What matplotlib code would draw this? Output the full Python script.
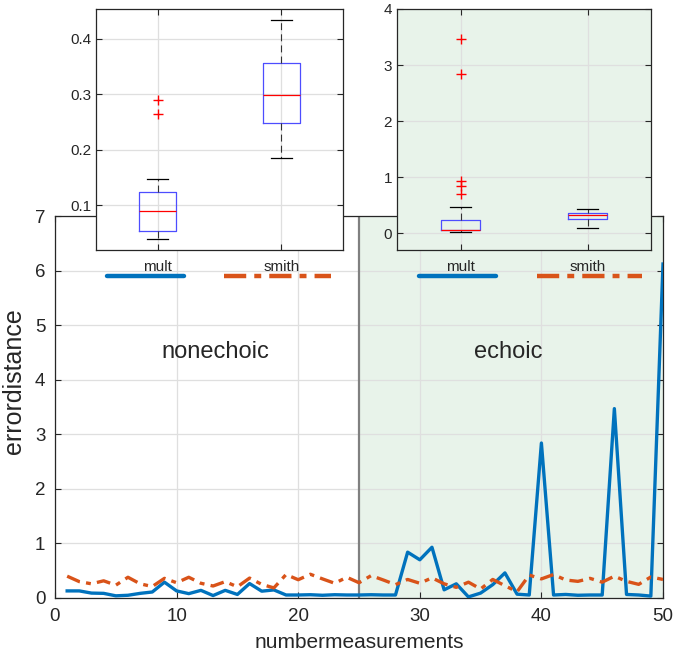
import matplotlib
matplotlib.use("Agg")
import matplotlib.pyplot as plt
from matplotlib.lines import Line2D
import numpy as np

plt.rcParams['font.family'] = ['Liberation Sans', 'DejaVu Sans']
plt.rcParams['lines.scale_dashes'] = False

# ---------------- data ----------------
measurements = list(range(1, 51))
mult = [0.13, 0.13, 0.09, 0.085, 0.04, 0.05, 0.085, 0.11, 0.29, 0.13,
        0.08, 0.14, 0.045, 0.14, 0.065, 0.265, 0.125, 0.148, 0.055, 0.055,
        0.06, 0.05, 0.06, 0.055, 0.055,
        0.06, 0.055, 0.055, 0.84, 0.70, 0.93, 0.15, 0.26, 0.02, 0.09,
        0.245, 0.46, 0.07, 0.055, 2.84, 0.055, 0.065, 0.05, 0.055, 0.055,
        3.47, 0.065, 0.055, 0.035, 6.12]
smith = [0.40, 0.30, 0.26, 0.315, 0.235, 0.38, 0.26, 0.21, 0.36, 0.28,
         0.38, 0.27, 0.22, 0.30, 0.205, 0.365, 0.25, 0.185, 0.43, 0.335,
         0.435, 0.35, 0.27, 0.38, 0.28,
         0.41, 0.33, 0.245, 0.34, 0.27, 0.37, 0.26, 0.195, 0.29, 0.165,
         0.34, 0.225, 0.115, 0.42, 0.35, 0.43, 0.33, 0.305, 0.36, 0.29,
         0.40, 0.305, 0.25, 0.385, 0.34]
split_at = 25
region_labels = ['nonechoic', 'echoic']
xticks = [0, 10, 20, 30, 40, 50]
yticks = [0, 1, 2, 3, 4, 5, 6, 7]
groups = ['mult', 'smith']

# box statistics
non_med = [0.089, 0.298]
non_q1 = [0.054, 0.248]
non_q3 = [0.123, 0.357]
non_lo = [0.039, 0.185]
non_hi = [0.147, 0.434]
non_fliers = [[0.290, 0.265], []]
ech_med = [0.06, 0.321]
ech_q1 = [0.054, 0.25]
ech_q3 = [0.232, 0.357]
ech_lo = [0.018, 0.10]
ech_hi = [0.464, 0.44]
ech_fliers = [[3.464, 2.833, 0.923, 0.833, 0.702], []]

# ---------------- style ----------------
BLUE = '#0072BD'
ORANGE = '#D95319'
GREEN = '#E8F3EA'
TXT = '#262626'
GRID = '#DFDFDF'
DASHDOT = (0, (10, 4.5, 3.5, 4.5))
DASHDOT_KEY = (0, (16, 5.8, 5, 5.8))

W, H = 673, 662
fig = plt.figure(figsize=(W / 100, H / 100), dpi=100)

def px_axes(l, t, r, b):
    return fig.add_axes([l / W, (H - b) / H, (r - l) / W, (b - t) / H])

def style_axes(a, fs):
    a.tick_params(direction='in', top=True, right=True, colors=TXT,
                  labelsize=fs, length=4, width=0.8)
    for s in a.spines.values():
        s.set_color(TXT)
        s.set_linewidth(0.9)
    a.grid(True, color=GRID, linewidth=0.9)
    a.set_axisbelow(True)

# main axes
ax = px_axes(55, 216, 663, 598)
style_axes(ax, 13.5)
ax.tick_params(pad=7)
ax.axvspan(split_at, measurements[-1], facecolor=GREEN, edgecolor='none', zorder=0.1)
ax.axvline(split_at, color='#808080', linewidth=1.6, zorder=2)
ax.plot(measurements, mult, color=BLUE, linewidth=2.4, zorder=3)
ax.plot(measurements, smith, color=ORANGE, linewidth=2.4, linestyle=DASHDOT, zorder=3)
ax.set_xlim(0, 50)
ax.set_ylim(0, 7)
ax.set_xticks(xticks)
ax.set_yticks(yticks)
ax.set_xlabel('numbermeasurements', fontsize=15, color=TXT, labelpad=6)
ax.set_ylabel('errordistance', fontsize=18, color=TXT)
ax.yaxis.set_label_coords(-0.048, 0.568)
ax.text(13.2, 4.4, region_labels[0], fontsize=17, color=TXT, ha='center', va='baseline')
ax.text(37.3, 4.4, region_labels[1], fontsize=17, color=TXT, ha='center', va='baseline')


def draw_inset(a, med, q1, q3, lo, hi, fl, face):
    style_axes(a, 11)
    a.set_facecolor(face)
    stats = []
    for i, g in enumerate(groups):
        stats.append(dict(med=med[i], q1=q1[i], q3=q3[i], whislo=lo[i],
                          whishi=hi[i], fliers=fl[i], label=g))
    a.bxp(stats, positions=[1, 2], widths=0.3, capwidths=0.17,
          boxprops=dict(color='#4D4DFF', linewidth=0.9),
          medianprops=dict(color='red', linewidth=0.9),
          whiskerprops=dict(color='#333333', linewidth=0.8, linestyle=(0, (5, 3))),
          capprops=dict(color='black', linewidth=0.9),
          flierprops=dict(marker='+', markeredgecolor='red', markersize=7,
                          markeredgewidth=1.0, linestyle='none'))
    a.set_xlim(0.5, 2.5)
    a.tick_params(axis='x', pad=7)

ax1 = px_axes(96, 9, 343, 250)
draw_inset(ax1, non_med, non_q1, non_q3, non_lo, non_hi, non_fliers, 'white')
ax1.set_ylim(0.019, 0.454)
ax1.set_yticks([0.1, 0.2, 0.3, 0.4])

ax2 = px_axes(397, 9, 651, 250)
draw_inset(ax2, ech_med, ech_q1, ech_q3, ech_lo, ech_hi, ech_fliers, GREEN)
ax2.set_ylim(-0.3, 4)
ax2.set_yticks([0, 1, 2, 3, 4])

# legend keys under each inset (in inset x-data / axes-y coordinates)
for a, (b0, b1), (o0, o1) in [(ax1, (0.59, 1.21), (1.54, 2.40)),
                              (ax2, (0.67, 1.28), (1.60, 2.43))]:
    tr = a.get_xaxis_transform()
    a.add_line(Line2D([b0, b1], [-0.108, -0.108], color=BLUE, linewidth=3.2,
                      solid_capstyle='round', transform=tr, clip_on=False))
    a.add_line(Line2D([o0, o1], [-0.108, -0.108], color=ORANGE, linewidth=3.2,
                      linestyle=DASHDOT_KEY, transform=tr, clip_on=False))

fig.savefig('out.png', dpi=100)
